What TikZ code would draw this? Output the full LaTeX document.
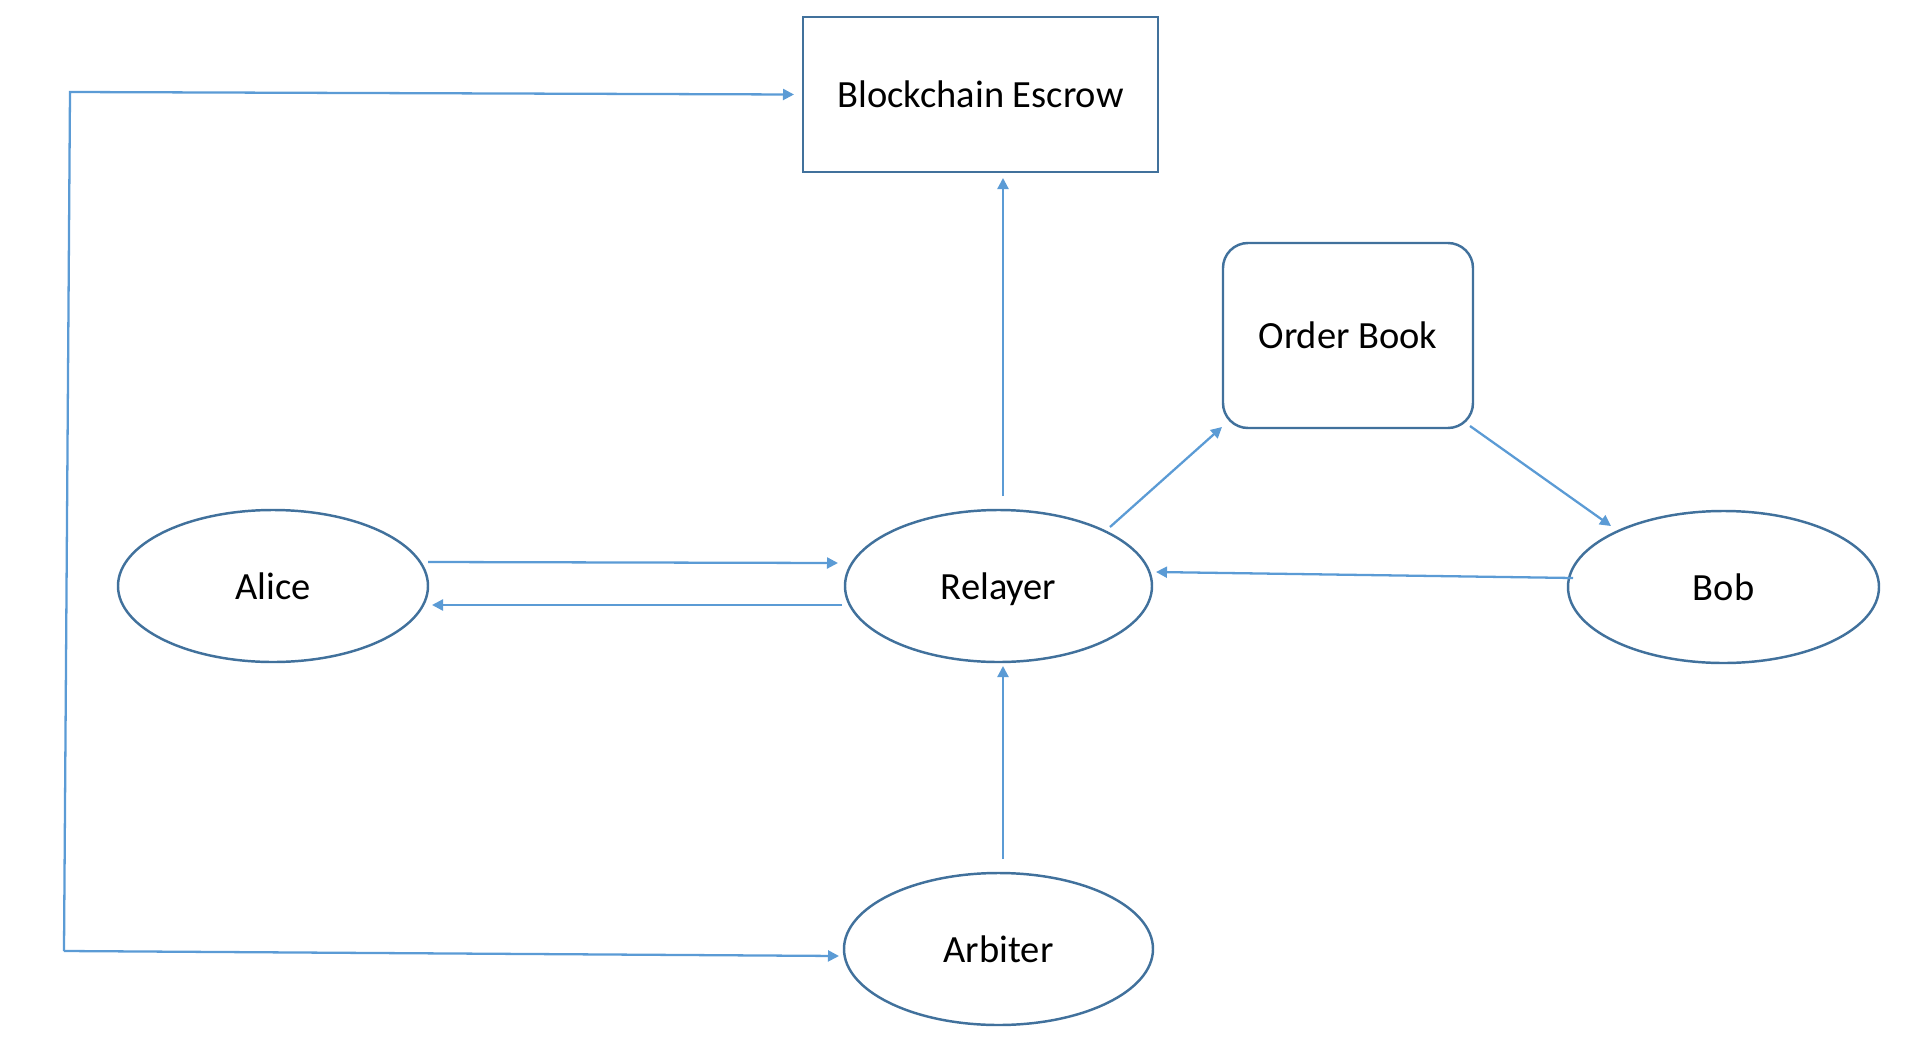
\documentclass[tikz,border=0pt]{standalone}
\usepackage{fontspec}
\setmainfont{Carlito}
\usetikzlibrary{positioning,arrows.meta,shapes.geometric}
\definecolor{outline}{HTML}{41719C}
\definecolor{link}{HTML}{5B9BD5}

\begin{document}
\begin{tikzpicture}[
  box/.style={draw=outline, line width=0.7pt, inner sep=0pt, outer sep=0pt,
    align=center, text height=0.92em, text depth=0.16em,
    font=\fontsize{10.95pt}{13pt}\selectfont},
  party/.style={box, ellipse, minimum width=3.1cm, minimum height=1.52cm},
  arr/.style={-{Triangle[length=1.1mm, width=1.1mm]}, draw=link, line width=0.65pt}
]
  \useasboundingbox (0,0) rectangle (19.30,-10.62);
  \node[box, minimum width=3.55cm, minimum height=1.55cm] (escrow) at (9.805,-0.945)
    {Blockchain Escrow};
  \node[box, rounded corners=0.25cm, minimum width=2.50cm,
    minimum height=1.85cm] (book) at (13.48,-3.355) {Order Book};
  \node[party] (alice) at (2.73,-5.86) {Alice};
  \node[party, minimum width=3.07cm] (relayer) at (9.985,-5.86) {Relayer};
  \node[party, minimum width=3.11cm] (bob) at (17.235,-5.87) {Bob};
  \node[party, minimum width=3.09cm] (arbiter) at (9.985,-9.49) {Arbiter};
  \coordinate (cornertop) at (0.70,-0.92);
  \coordinate (cornerbottom) at (0.64,-9.51);

  \draw[arr] ([yshift=0.24cm]alice.east) -- ([shift={(-0.07,0.23)}]relayer.west);
  \draw[arr] ([shift={(-0.03,-0.19)}]relayer.west) -- ([shift={(0.04,-0.19)}]alice.east);
  \draw[arr] ([shift={(0.045,0.14)}]relayer.north) -- ([shift={(0.225,-0.06)}]escrow.south);
  \draw[arr] ([shift={(1.115,0.59)}]relayer.center) -- ([shift={(-0.01,0.01)}]book.south west);
  \draw[arr] ([shift={(-0.03,0.02)}]book.south east) -- ([shift={(-1.125,0.61)}]bob.center);
  \draw[arr] ([shift={(0.05,0.09)}]bob.west) -- ([shift={(0.04,0.14)}]relayer.east);
  \draw[arr] ([shift={(0.045,0.14)}]arbiter.north) -- ([shift={(0.045,-0.04)}]relayer.south);
  \draw[arr] (cornerbottom) -- (cornertop) -- ([xshift=-0.09cm]escrow.west);
  \draw[arr] (cornerbottom) -- ([shift={(-0.05,-0.07)}]arbiter.west);
\end{tikzpicture}
\end{document}
